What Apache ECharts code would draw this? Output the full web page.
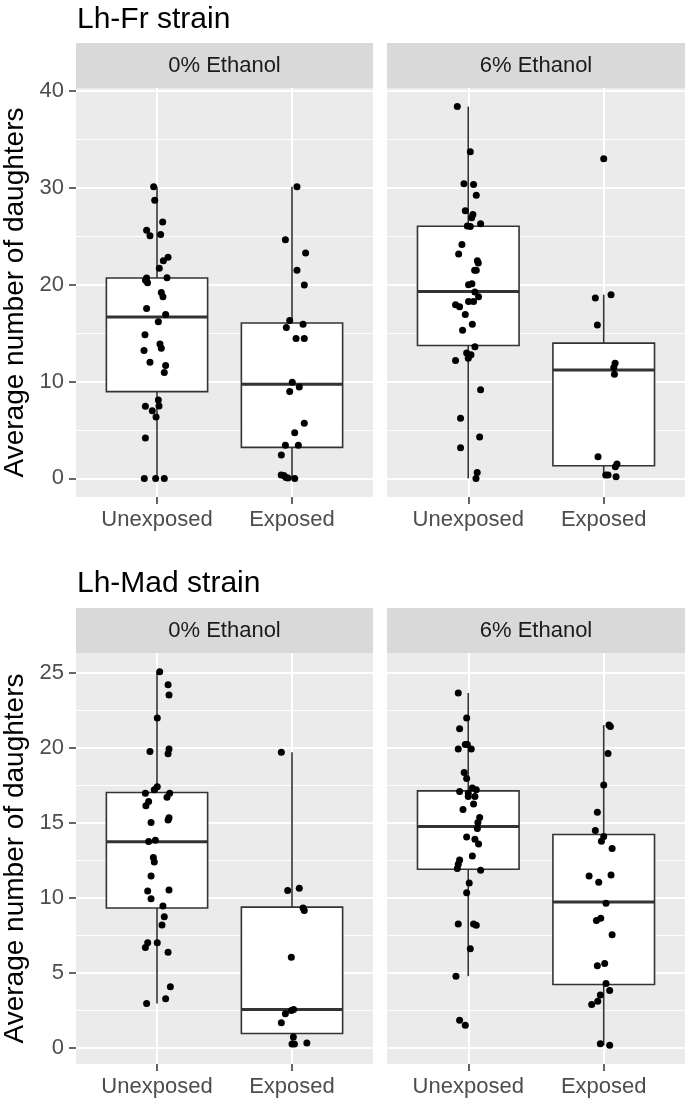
<!DOCTYPE html>
<html><head><meta charset="utf-8">
<script src="https://cdn.jsdelivr.net/npm/echarts@6/dist/echarts.min.js"></script>
<style>html,body{margin:0;padding:0;background:#fff}#c{width:685px;height:1102px}</style>
</head><body><div id="c"></div>
<script>
// ---------- data ----------
const categories = ['Unexposed', 'Exposed'];
const panelTitles = ['Lh-Fr strain', 'Lh-Mad strain'];
const stripLabels = ['0% Ethanol', '6% Ethanol'];
const yTicksFr = [0, 10, 20, 30, 40];
const yTicksMad = [0, 5, 10, 15, 20, 25];
const yAxisTitle = 'Average number of daughters';

// box stats: [min, Q1, median, Q3, max]
const frE0UnexpBox = [0, 8.96, 16.65, 20.68, 30.09];
const frE0ExpBox   = [0, 3.2, 9.72, 16.03, 30.09];
const frE6UnexpBox = [0, 13.71, 19.3, 26.02, 38.37];
const frE6ExpBox   = [0.17, 1.3, 11.2, 13.96, 18.96];
const madE0UnexpBox = [2.96, 9.33, 13.74, 17.03, 25.09];
const madE0ExpBox   = [0.25, 0.96, 2.56, 9.39, 19.71];
const madE6UnexpBox = [4.78, 11.91, 14.76, 17.14, 23.67];
const madE6ExpBox   = [0.17, 4.23, 9.73, 14.23, 21.53];

// jittered points: [jitter offset (category units), value]
const frE0UnexpPts = [[-0.025,30.09],[-0.017,28.71],[0.042,26.47],[-0.077,25.6],[-0.052,25.03],[0.027,25.16],[0.082,22.81],[0.047,22.47],[0.017,21.68],[-0.077,20.68],[-0.085,20.45],[-0.07,20.2],[0.074,20.7],[0.032,19.19],[0.044,18.75],[-0.077,17.54],[0.064,16.92],[0.01,16.16],[-0.089,14.82],[0.022,13.86],[0.032,13.44],[-0.096,13.2],[-0.052,11.99],[0.064,11.65],[0.054,10.92],[0.01,8.1],[0.015,7.48],[-0.086,7.44],[-0.035,6.99],[-0.007,6.34],[-0.086,4.17],[-0.094,0],[-0.01,0],[0.054,0]];
const frE0ExpPts = [[0.037,30.09],[-0.049,24.64],[0.101,23.27],[0.037,21.47],[0.091,19.96],[-0.017,16.3],[-0.042,15.57],[0.082,15.92],[0.03,14.44],[0.091,14.44],[0.002,9.93],[0.054,9.44],[-0.017,8.96],[0.091,5.69],[0.02,4.72],[-0.049,3.41],[0.047,3.41],[-0.079,2.41],[-0.08,0.35],[-0.06,0.3],[-0.045,0.1],[-0.03,0.05],[0.02,0]];
const frE6UnexpPts = [[-0.081,38.37],[0.015,33.71],[-0.032,30.4],[0.039,30.33],[0.059,29.22],[-0.022,27.61],[0.034,27.23],[0.025,26.89],[0.091,26.27],[-0.007,26.05],[0.015,26.0],[-0.047,24.13],[-0.071,23.16],[0.067,22.47],[0.074,22.23],[0.047,21.47],[0.059,21.47],[0.002,19.99],[0.027,20.1],[0.049,19.24],[0.076,18.75],[-0.094,17.92],[-0.064,17.71],[0.002,18.26],[0.039,18.26],[-0.022,16.92],[0.03,15.92],[-0.042,15.3],[0.049,13.58],[-0.012,12.93],[0.02,12.75],[0,12.41],[-0.094,12.16],[0.091,9.16],[-0.057,6.2],[0.084,4.27],[-0.057,3.16],[0.066,0.62],[0.057,0]];
const frE6ExpPts = [[0,32.99],[-0.062,18.61],[0.054,18.96],[-0.047,15.82],[0.084,11.89],[0.074,11.44],[0.079,10.75],[-0.042,2.23],[0.086,1.2],[0.098,1.48],[0.015,0.34],[0.032,0.34],[0.091,0.17]];
const madE0UnexpPts = [[0.02,25.09],[0.082,24.22],[0.089,23.53],[0.002,22.0],[-0.052,19.77],[0.089,19.93],[0.082,19.61],[0.002,17.41],[-0.02,17.21],[-0.086,16.99],[0.094,16.99],[0.074,16.72],[-0.062,16.43],[-0.082,16.14],[0.089,15.34],[0.082,15.2],[-0.044,15.03],[-0.062,13.76],[-0.012,13.85],[-0.027,12.69],[-0.02,12.4],[-0.044,11.46],[-0.069,10.46],[0.089,10.53],[-0.044,9.95],[0.044,9.46],[0.054,8.75],[0.037,8.19],[-0.069,7.01],[-0.086,6.7],[0.002,7.01],[0.082,6.37],[0.099,4.07],[0.064,3.27],[-0.077,2.96]];
const madE0ExpPts = [[-0.079,19.71],[-0.032,10.49],[0.054,10.64],[0.082,9.33],[0.091,9.17],[-0.005,6.05],[0.012,2.56],[-0.005,2.49],[-0.049,2.27],[-0.079,1.67],[0.01,0.72],[0,0.25],[0.018,0.25],[0.11,0.32]];
const madE6UnexpPts = [[-0.074,23.67],[-0.012,22.0],[-0.064,21.28],[-0.074,19.93],[-0.022,20.24],[-0.007,20.24],[0.022,19.93],[-0.03,18.37],[-0.012,17.97],[-0.064,17.1],[0.03,17.34],[0.059,17.21],[0,16.99],[0,16.77],[0.049,16.77],[0.039,16.27],[-0.039,15.9],[0.084,15.36],[0.071,15.03],[0.067,14.63],[-0.012,14.07],[0.049,13.91],[0.076,13.6],[0.03,12.8],[-0.064,12.53],[-0.074,12.24],[-0.081,11.96],[0.091,11.84],[0.007,11.0],[-0.012,10.35],[-0.074,8.26],[0.039,8.26],[0.059,8.17],[0.015,6.61],[-0.091,4.78],[-0.064,1.84],[-0.022,1.51]];
const madE6ExpPts = [[0.039,21.53],[0.049,21.44],[0.032,19.64],[0,17.54],[-0.047,15.72],[-0.062,14.5],[0,14.09],[-0.017,13.78],[0.062,13.29],[-0.108,11.46],[-0.037,11.04],[0.054,11.53],[0.017,9.64],[-0.054,8.5],[-0.022,8.64],[0.062,7.55],[-0.047,5.48],[0.007,5.63],[0.017,4.3],[0.044,3.83],[-0.025,3.52],[-0.044,3.11],[-0.089,2.89],[-0.025,0.27],[0.044,0.17]];

// ---------- chart ----------
const FONT = '"Liberation Sans", Arial, sans-serif';
const panels = [
  {grid:{left:76, top:88, width:297, height:409}, boxes:[frE0UnexpBox, frE0ExpBox], pts:[frE0UnexpPts, frE0ExpPts], ticks:yTicksFr, row:0, leftAxis:true},
  {grid:{left:387, top:88, width:298, height:409}, boxes:[frE6UnexpBox, frE6ExpBox], pts:[frE6UnexpPts, frE6ExpPts], ticks:yTicksFr, row:0, leftAxis:false},
  {grid:{left:76, top:653, width:297, height:411}, boxes:[madE0UnexpBox, madE0ExpBox], pts:[madE0UnexpPts, madE0ExpPts], ticks:yTicksMad, row:1, leftAxis:true},
  {grid:{left:387, top:653, width:298, height:411}, boxes:[madE6UnexpBox, madE6ExpBox], pts:[madE6UnexpPts, madE6ExpPts], ticks:yTicksMad, row:1, leftAxis:false}
];
// ggplot-like 5% expansion of the data range per row
function rowRange(row) {
  let lo = Infinity, hi = -Infinity;
  panels.filter(p => p.row === row).forEach(p => p.pts.forEach(g => g.forEach(d => { lo = Math.min(lo, d[1]); hi = Math.max(hi, d[1]); })));
  const pad = (hi - lo) * 0.05;
  return [lo - pad, hi + pad];
}
const ranges = [rowRange(0), rowRange(1)];

function renderBox(params, api) {
  const x = api.value(0);
  const lo = api.coord([x, api.value(1)]);
  const q1 = api.coord([x, api.value(2)]);
  const md = api.coord([x, api.value(3)]);
  const q3 = api.coord([x, api.value(4)]);
  const hi = api.coord([x, api.value(5)]);
  const hw = api.size([0.75, 0])[0] / 2;
  const st = {stroke:'#333333', lineWidth:1.6};
  return {type:'group', children:[
    {type:'line', shape:{x1:lo[0], y1:lo[1], x2:q1[0], y2:q1[1]}, style:st},
    {type:'line', shape:{x1:q3[0], y1:q3[1], x2:hi[0], y2:hi[1]}, style:st},
    {type:'rect', shape:{x:q3[0]-hw, y:q3[1], width:2*hw, height:q1[1]-q3[1]}, style:{fill:'#ffffff', stroke:'#333333', lineWidth:1.6}},
    {type:'line', shape:{x1:md[0]-hw, y1:md[1], x2:md[0]+hw, y2:md[1]}, style:{stroke:'#333333', lineWidth:3}}
  ]};
}

const option = {
  animation:false,
  backgroundColor:'#ffffff',
  textStyle:{fontFamily:FONT},
  title: panelTitles.map((t, i) => ({
    text:t, left:77, top: i === 0 ? 5 : 569, padding:0,
    textStyle:{fontSize:30, fontWeight:'normal', color:'#000000', fontFamily:FONT}
  })),
  grid: panels.map(p => Object.assign({show:true, backgroundColor:'#ebebeb', borderWidth:0}, p.grid)),
  xAxis: panels.map((p, i) => ({
    gridIndex:i, type:'value', min:0.4, max:2.6, position:'bottom',
    axisLine:{show:false, onZero:false},
    axisTick:{show:true, length:7, customValues:[1,2], lineStyle:{color:'#333333', width:1.5}},
    axisLabel:{show:true, customValues:[1,2], formatter: v => categories[Math.round(v)-1] || '', fontSize:22, color:'#4d4d4d', margin:12, fontFamily:FONT},
    splitLine:{show:true, lineStyle:{color:'#ffffff', width:2}}
  })),
  yAxis: panels.map((p, i) => ({
    gridIndex:i, type:'value', min:ranges[p.row][0], max:ranges[p.row][1], splitNumber:5,
    axisLine:{show:false, onZero:false},
    axisTick:{show:p.leftAxis, length:7, customValues:p.ticks, lineStyle:{color:'#333333', width:1.5}},
    axisLabel:{show:p.leftAxis, customValues:p.ticks, fontSize:22, color:'#4d4d4d', margin:12, fontFamily:FONT},
    splitLine:{show:true, lineStyle:{color:'#ffffff', width:2}},
    minorTick:{show:false, splitNumber:2},
    minorSplitLine:{show:true, lineStyle:{color:'#ffffff', width:1}},
    name: p.leftAxis ? yAxisTitle : '', nameLocation:'middle', nameGap:47,
    nameTextStyle:{fontSize:28, color:'#000000', fontFamily:FONT}
  })),
  series: [],
  graphic: []
};

panels.forEach((p, i) => {
  option.series.push({
    type:'custom', xAxisIndex:i, yAxisIndex:i, renderItem:renderBox,
    encode:{x:0, y:[1,2,3,4,5]},
    data: p.boxes.map((b, k) => [k + 1].concat(b)), z:2
  });
  option.series.push({
    type:'scatter', xAxisIndex:i, yAxisIndex:i, symbolSize:7,
    itemStyle:{color:'#000000', opacity:1},
    data: p.pts[0].map(d => [1 + d[0], d[1]]).concat(p.pts[1].map(d => [2 + d[0], d[1]])), z:3
  });
  // facet strip
  option.graphic.push({
    type:'group', left:p.grid.left, top:p.grid.top - 45,
    children:[
      {type:'rect', shape:{x:0, y:0, width:p.grid.width, height:45}, style:{fill:'#d9d9d9'}},
      {type:'text', x:p.grid.width/2, y:22.5, style:{text: stripLabels[i % 2], font:'22px ' + FONT, fill:'#1a1a1a', textAlign:'center', textVerticalAlign:'middle'}}
    ]
  });
});

const chart = echarts.init(document.getElementById('c'), null, {renderer:'canvas'});
chart.setOption(option);
</script>
</body></html>
